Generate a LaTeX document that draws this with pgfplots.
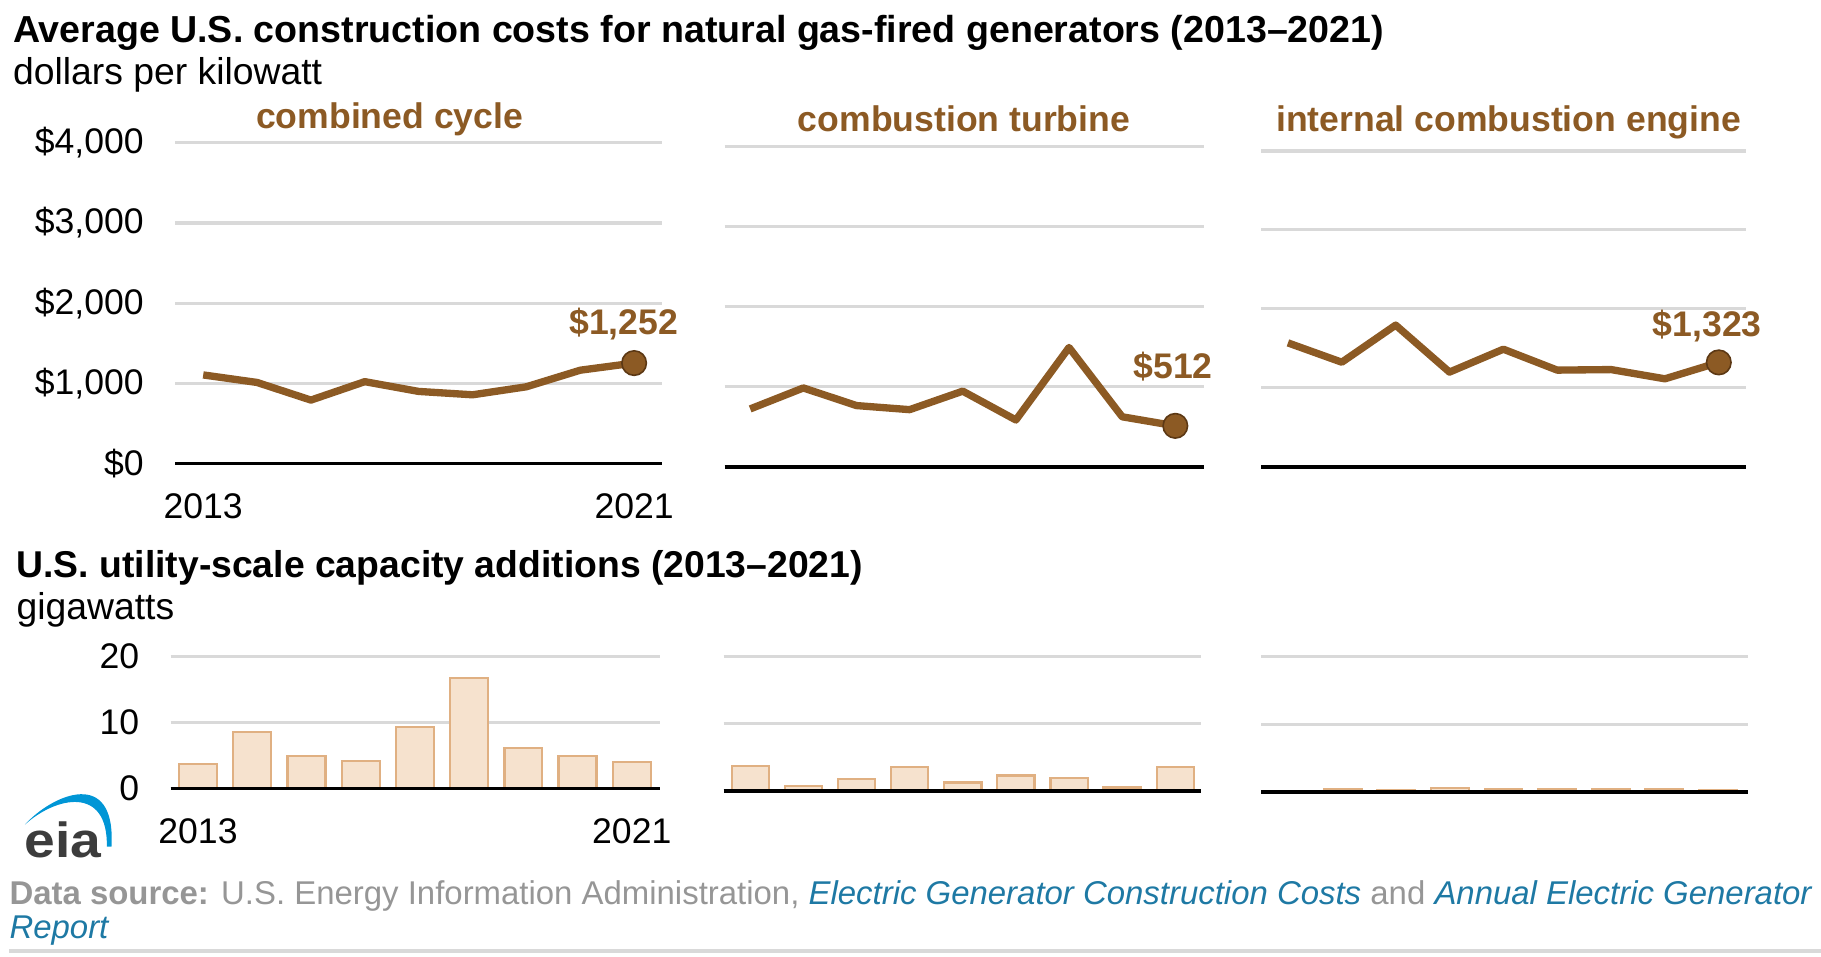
\documentclass[border=0pt]{standalone}
\usepackage{fontspec}
\setmainfont{Liberation Sans}
\usepackage{pgfplots}
\pgfplotsset{compat=1.18}
\definecolor{brn}{RGB}{140,90,36}
\definecolor{brnd}{RGB}{92,56,20}
\definecolor{barf}{RGB}{246,226,206}
\definecolor{bare}{RGB}{224,176,130}
\definecolor{gridc}{RGB}{217,217,217}
\definecolor{srcgray}{RGB}{150,150,150}
\definecolor{linkc}{RGB}{30,121,164}
\definecolor{eiagray}{RGB}{60,60,60}
\definecolor{eiablue}{RGB}{0,150,214}
\pgfplotsset{
  panel/.style={scale only axis, anchor=south west, clip=false,
    axis line style={draw=none}, major tick length=0pt,
    ymajorgrids, grid style={gridc, line width=2.3pt},
    ticklabel style={font=\fontsize{26.7}{30}\selectfont, inner sep=0pt},
    yticklabel style={anchor=east, xshift=-23.5pt},
    xticklabel style={anchor=center, yshift=-32pt},
  },
  costline/.style={brn, line width=5.5pt, line join=round},
  endmark/.style={only marks, mark=*, mark size=9.2pt, mark options={fill=brn, draw=brnd, line width=1.2pt}},
  bars/.style={ybar, bar width=0.7, fill=barf, draw=bare, line width=1.7pt},
}
\begin{document}
\begin{tikzpicture}[x=0.8712pt, y=-0.8712pt]
\path[use as bounding box] (0,0) rectangle (1568,824);

% ---------- top: costs ----------
\begin{axis}[panel, at={(131.55pt,-347.61pt)}, width=365.03pt, height=240.45pt,
  xmin=2012.483, xmax=2021.517, ymin=0, ymax=4000,
  ytick={0,1000,2000,3000,4000},
  yticklabels={{\$0},{\$1,000},{\$2,000},{\$3,000},{\$4,000}},
  xtick={2013,2021}, xticklabels={2013,2021}]
\addplot[costline] coordinates {(2013,1104) (2014,1010) (2015,790) (2016,1020) (2017,898) (2018,856) (2019,956) (2020,1163) (2021,1252)};
\addplot[endmark] coordinates {(2021,1252)};
\draw[black, line width=2.5pt] (rel axis cs:0,0) -- (rel axis cs:1,0);
\node[anchor=base, inner sep=0, font=\fontsize{26.7}{30}\selectfont\bfseries, text=brn, xshift=-7.8pt, yshift=21.8pt] at (axis cs:2021,1252) {\$1,252};
\end{axis}

\begin{axis}[panel, at={(543.63pt,-350.22pt)}, width=359.81pt, height=240.45pt,
  xmin=2012.52, xmax=2021.546, ymin=0, ymax=4000,
  ytick={0,1000,2000,3000,4000}, yticklabels={}, xtick=\empty]
\addplot[costline] coordinates {(2013,723) (2014,985) (2015,765) (2016,714) (2017,945) (2018,585) (2019,1490) (2020,625) (2021,512)};
\addplot[endmark] coordinates {(2021,512)};
\draw[black, line width=2.5pt] (rel axis cs:0,0) -- (rel axis cs:1,0);
\node[anchor=base, inner sep=0, font=\fontsize{26.7}{30}\selectfont\bfseries, text=brn, xshift=-1.7pt, yshift=35.7pt] at (axis cs:2021,512) {\$512};
\end{axis}

\begin{axis}[panel, at={(946.12pt,-350.22pt)}, width=363.29pt, height=236.97pt,
  xmin=2012.504, xmax=2021.496, ymin=0, ymax=4000,
  ytick={0,1000,2000,3000,4000}, yticklabels={}, xtick=\empty]
\addplot[costline] coordinates {(2013,1570) (2014,1325) (2015,1795) (2016,1200) (2017,1490) (2018,1225) (2019,1232) (2020,1115) (2021,1323)};
\addplot[endmark] coordinates {(2021,1323)};
\draw[black, line width=2.5pt] (rel axis cs:0,0) -- (rel axis cs:1,0);
\node[anchor=base, inner sep=0, font=\fontsize{26.7}{30}\selectfont\bfseries, text=brn, xshift=-8.7pt, yshift=19.2pt] at (axis cs:2021,1323) {\$1,323};
\end{axis}

% ---------- bottom: capacity additions ----------
\begin{axis}[panel, at={(128.07pt,-591.54pt)}, width=366.78pt, height=99.32pt,
  xmin=2012.497, xmax=2021.514, ymin=0, ymax=20,
  ytick={0,10,20}, yticklabels={0,10,20},
  xtick={2013,2021}, xticklabels={2013,2021}]
\addplot[bars] coordinates {(2013,3.7) (2014,8.6) (2015,4.9) (2016,4.2) (2017,9.3) (2018,16.7) (2019,6.1) (2020,4.9) (2021,4.0)};
\draw[black, line width=2.5pt] (rel axis cs:0,0) -- (rel axis cs:1,0);
\end{axis}

\begin{axis}[panel, at={(542.76pt,-593.29pt)}, width=358.06pt, height=101.06pt,
  xmin=2012.497, xmax=2021.48, ymin=0, ymax=20,
  ytick={0,10,20}, yticklabels={}, xtick=\empty]
\addplot[bars] coordinates {(2013,3.75) (2014,0.7) (2015,1.8) (2016,3.6) (2017,1.25) (2018,2.3) (2019,1.9) (2020,0.5) (2021,3.5)};
\draw[black, line width=2.5pt] (rel axis cs:0,0) -- (rel axis cs:1,0);
\end{axis}

\begin{axis}[panel, at={(946.12pt,-594.16pt)}, width=365.03pt, height=101.93pt,
  xmin=2012.48, xmax=2021.56, ymin=0, ymax=20,
  ytick={0,10,20}, yticklabels={}, xtick=\empty]
\addplot[bars] coordinates {(2013,0.0) (2014,0.45) (2015,0.35) (2016,0.6) (2017,0.4) (2018,0.5) (2019,0.5) (2020,0.4) (2021,0.25)};
\draw[black, line width=2.5pt] (rel axis cs:0,0) -- (rel axis cs:1,0);
\end{axis}

% ---------- texts ----------
\node[anchor=base west, inner sep=0, font=\fontsize{28.2}{32}\selectfont\bfseries] at (11,37) {Average U.S. construction costs for natural gas-fired generators (2013–2021)};
\node[anchor=base west, inner sep=0, font=\fontsize{28}{32}\selectfont] at (11,73) {dollars per kilowatt};
\node[anchor=base, inner sep=0, font=\fontsize{26.7}{30}\selectfont\bfseries, text=brn] at (335.5,111) {combined cycle};
\node[anchor=base, inner sep=0, font=\fontsize{26.7}{30}\selectfont\bfseries, text=brn] at (830,113) {combustion turbine};
\node[anchor=base, inner sep=0, font=\fontsize{26.7}{30}\selectfont\bfseries, text=brn] at (1299,113) {internal combustion engine};

\node[anchor=base west, inner sep=0, font=\fontsize{28}{32}\selectfont\bfseries] at (14,497) {U.S. utility-scale capacity additions (2013–2021)};
\node[anchor=base west, inner sep=0, font=\fontsize{28}{32}\selectfont] at (14,533) {gigawatts};

% eia logo
\fill[eiablue] (21.5,710) .. controls (45,684) and (100,660) .. (96,729) -- (92,729) .. controls (93,676) and (48,686) .. (21.5,710) -- cycle;
\node[anchor=base west, inner sep=0, font=\fontsize{37}{40}\selectfont\bfseries, text=eiagray, xscale=1.12] at (21,738) {eia};

% source
\node[anchor=base west, inner sep=0, font=\fontsize{24.7}{30}\selectfont, text=srcgray] at (8,779) {\textbf{Data source:} U.S. Energy Information Administration, \textit{\textcolor{linkc}{Electric Generator Construction Costs}} and \textit{\textcolor{linkc}{Annual Electric Generator}}};
\node[anchor=base west, inner sep=0, font=\fontsize{24.7}{30}\selectfont, text=linkc] at (8,808) {\textit{Report}};
\draw[gridc, line width=2.6pt] (8,819) -- (1568,819);
\end{tikzpicture}
\end{document}
